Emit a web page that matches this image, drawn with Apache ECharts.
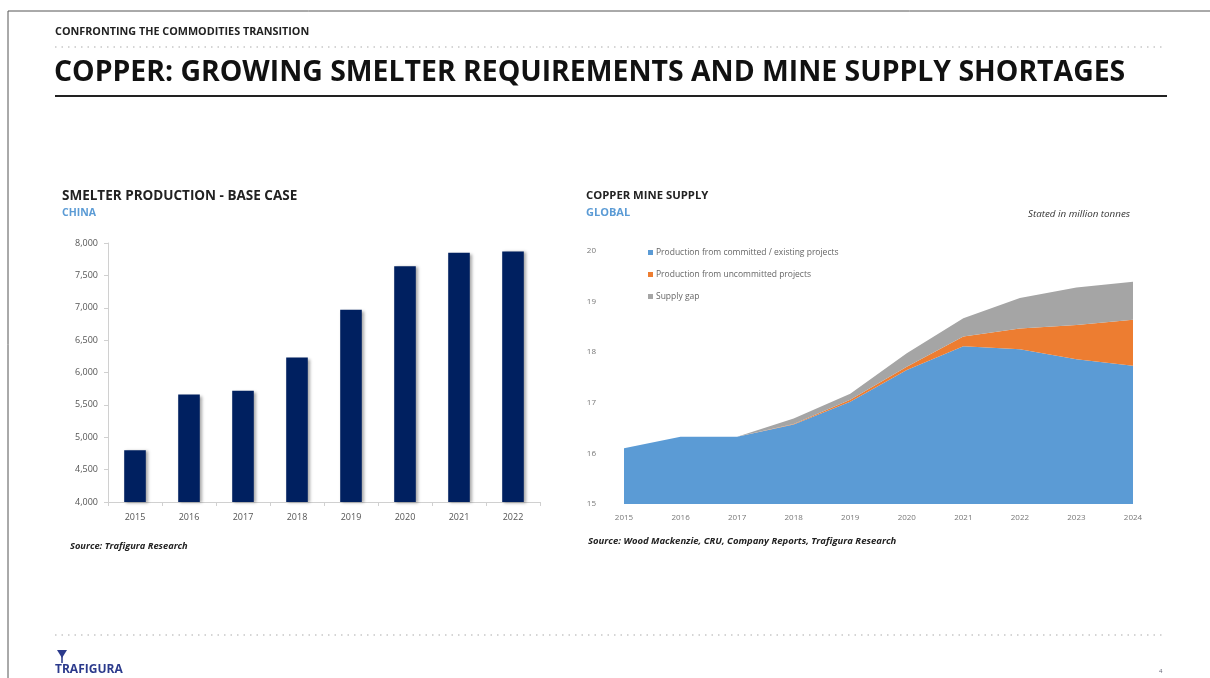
<!DOCTYPE html>
<html>
<head>
<meta charset="utf-8">
<script src="https://cdn.jsdelivr.net/npm/echarts@6/dist/echarts.min.js"></script>
<style>
html,body{margin:0;padding:0;background:#fff;}
#chart{width:1210px;height:678px;}
</style>
</head>
<body>
<div id="chart"></div>
<script>
// ---- Data ----
const smelterYears = ['2015','2016','2017','2018','2019','2020','2021','2022'];
const smelterValues = [4800, 5660, 5720, 6230, 6970, 7640, 7850, 7870];

const mineYears = ['2015','2016','2017','2018','2019','2020','2021','2022','2023','2024'];
const committed = [16.10, 16.33, 16.33, 16.57, 17.02, 17.65, 18.12, 18.06, 17.86, 17.73];
const uncommitted = [0, 0, 0, 0.01, 0.04, 0.06, 0.19, 0.41, 0.68, 0.91];
const supplyGap = [0, 0, 0, 0.11, 0.12, 0.27, 0.36, 0.60, 0.74, 0.75];

const seriesNames = ['Production from committed / existing projects', 'Production from uncommitted projects', 'Supply gap'];

const chart = echarts.init(document.getElementById('chart'));
const F = 'Open Sans, Liberation Sans, sans-serif';

function dotted(y) {
  return {type:'line', shape:{x1:55,y1:y,x2:1166,y2:y}, style:{stroke:'#c8c8c8', lineWidth:1.5, lineDash:[1.5,5]}};
}

chart.setOption({
  animation:false,
  textStyle:{fontFamily:F},
  graphic:[
    {type:'line', shape:{x1:8,y1:11,x2:1210,y2:11}, style:{stroke:'#555', lineWidth:1}},
    {type:'line', shape:{x1:8,y1:11,x2:8,y2:678}, style:{stroke:'#555', lineWidth:1}},
    {type:'text', left:55, top:26, style:{text:'CONFRONTING THE COMMODITIES TRANSITION', fontFamily:F, fontWeight:'bold', fontSize:10.8, fill:'#222'}},
    dotted(47),
    {type:'text', left:54, top:59, style:{text:'COPPER: GROWING SMELTER REQUIREMENTS AND MINE SUPPLY SHORTAGES', fontFamily:F, fontWeight:'bold', fontSize:28.4, fill:'#111'}},
    {type:'line', shape:{x1:55,y1:96,x2:1167,y2:96}, style:{stroke:'#222', lineWidth:1.8}},
    {type:'text', left:62, top:189, style:{text:'SMELTER PRODUCTION - BASE CASE', fontFamily:F, fontWeight:'bold', fontSize:13.5, fill:'#222'}},
    {type:'text', left:62, top:208, style:{text:'CHINA', fontFamily:F, fontWeight:'bold', fontSize:10.5, fill:'#5b9bd5'}},
    {type:'text', left:586, top:190, style:{text:'COPPER MINE SUPPLY', fontFamily:F, fontWeight:'bold', fontSize:11.3, fill:'#222'}},
    {type:'text', left:586, top:207, style:{text:'GLOBAL', fontFamily:F, fontWeight:'bold', fontSize:11, fill:'#5b9bd5'}},
    {type:'text', right:80, top:209, style:{text:'Stated in million tonnes', fontFamily:F, fontStyle:'italic', fontSize:9.8, fill:'#333'}},
    {type:'text', left:70, top:542, style:{text:'Source: Trafigura Research', fontFamily:F, fontStyle:'italic', fontWeight:'bold', fontSize:9.3, fill:'#222'}},
    {type:'text', left:588, top:536, style:{text:'Source: Wood Mackenzie, CRU, Company Reports, Trafigura Research', fontFamily:F, fontStyle:'italic', fontWeight:'bold', fontSize:9.5, fill:'#222'}},
    dotted(635),
    {type:'polygon', shape:{points:[[57,650],[67,650],[62,658]]}, style:{fill:'#2b3a8c'}},
    {type:'line', shape:{x1:62,y1:656,x2:62,y2:663}, style:{stroke:'#2b3a8c', lineWidth:1.5}},
    {type:'text', left:55, top:664, style:{text:'TRAFIGURA', fontFamily:F, fontWeight:'bold', fontSize:12, fill:'#2b3a8c'}},
    {type:'text', left:1159, top:668, style:{text:'4', fontFamily:F, fontSize:6, fill:'#667'}}
  ],
  legend:{
    show:true, left:643, top:243, orient:'vertical', itemGap:13,
    icon:'rect', itemWidth:5, itemHeight:5,
    textStyle:{fontFamily:F, fontSize:8.5, color:'#666', padding:[0,0,0,-2]},
    data:seriesNames
  },
  grid:[
    {left:108, right:670, top:243, bottom:176},
    {left:624, right:77, top:251, bottom:174}
  ],
  xAxis:[
    {type:'category', gridIndex:0, data:smelterYears,
     axisLine:{lineStyle:{color:'#d0d0d0'}}, axisTick:{show:true, length:4, lineStyle:{color:'#d0d0d0'}},
     axisLabel:{color:'#555', fontSize:9, margin:11, fontFamily:F}},
    {type:'category', gridIndex:1, data:mineYears, boundaryGap:false,
     axisLine:{show:false}, axisTick:{show:false},
     axisLabel:{color:'#777', fontSize:8, margin:10, fontFamily:F, showMaxLabel:true}}
  ],
  yAxis:[
    {type:'value', gridIndex:0, min:4000, max:8000, interval:500,
     splitLine:{show:false},
     axisLine:{show:true, lineStyle:{color:'#d0d0d0'}}, axisTick:{show:true, length:4, lineStyle:{color:'#d0d0d0'}},
     axisLabel:{color:'#555', fontSize:9, margin:10, fontFamily:F,
       formatter:v=>v.toLocaleString('en-US')}},
    {type:'value', gridIndex:1, min:15, max:20, interval:1,
     splitLine:{show:false}, axisLine:{show:false}, axisTick:{show:false},
     axisLabel:{color:'#777', fontSize:8, margin:28, fontFamily:F}}
  ],
  series:[
    {type:'bar', xAxisIndex:0, yAxisIndex:0, data:smelterValues, barWidth:'40%',
     itemStyle:{color:'#002060', shadowColor:'rgba(0,0,0,0.35)', shadowBlur:3, shadowOffsetX:2, shadowOffsetY:1}},
    {name:seriesNames[0], type:'line', xAxisIndex:1, yAxisIndex:1, stack:'mine', data:committed,
     symbol:'none', lineStyle:{width:0}, areaStyle:{color:'#5b9bd5', opacity:1}, itemStyle:{color:'#5b9bd5'}},
    {name:seriesNames[1], type:'line', xAxisIndex:1, yAxisIndex:1, stack:'mine', data:uncommitted,
     symbol:'none', lineStyle:{width:0}, areaStyle:{color:'#ed7d31', opacity:1}, itemStyle:{color:'#ed7d31'}},
    {name:seriesNames[2], type:'line', xAxisIndex:1, yAxisIndex:1, stack:'mine', data:supplyGap,
     symbol:'none', lineStyle:{width:0}, areaStyle:{color:'#a5a5a5', opacity:1}, itemStyle:{color:'#a5a5a5'}}
  ]
});
</script>
</body>
</html>
